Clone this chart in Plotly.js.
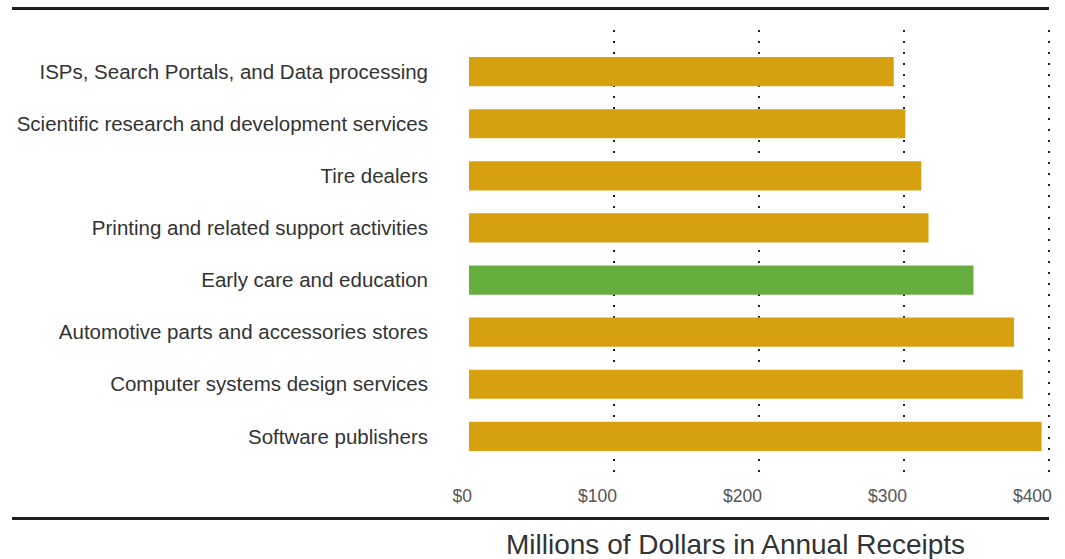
<!DOCTYPE html>
<html>
<head>
<meta charset="utf-8">
<script src="https://cdn.plot.ly/plotly-3.0.1.min.js"></script>
<style>html,body{margin:0;padding:0;background:#fff;}#chart{width:1065px;height:559px;}</style>
</head>
<body>
<div id="chart"></div>
<script>
const categories = [
  "ISPs, Search Portals, and Data processing",
  "Scientific research and development services",
  "Tire dealers",
  "Printing and related support activities",
  "Early care and education",
  "Automotive parts and accessories stores",
  "Computer systems design services",
  "Software publishers"
];
const receipts = [293, 301, 312, 317, 348, 376, 382, 395];
const highlight = "Early care and education";
const tickValues = [0, 100, 200, 300, 400];
const tickLabels = ["$0", "$100", "$200", "$300", "$400"];
const xTitle = "Millions of Dollars in Annual Receipts";

const gold = "#D6A010", green = "#66AF3F";
const colors = categories.map(c => c === highlight ? green : gold);

const trace = {
  type: "bar",
  orientation: "h",
  y: categories,
  x: receipts,
  marker: {color: colors, line: {width: 0}},
  hoverinfo: "x+y"
};

const L = 469, T = 30, W = 581, H = 448;
const px = v => (v - L) / W;
const py = v => (T + H - v) / H;

const layout = {
  width: 1065, height: 559,
  margin: {l: L, r: 1065 - L - W, t: T, b: 559 - T - H, pad: 0},
  paper_bgcolor: "#fff", plot_bgcolor: "#fff",
  showlegend: false,
  bargap: 0.44,
  font: {family: "Liberation Sans, Arial, sans-serif", color: "#333"},
  xaxis: {
    range: [0, 400.8],
    tickvals: tickValues, ticktext: tickLabels,
    showgrid: true, gridcolor: "#222", gridwidth: 2, griddash: "2px,9px",
    zeroline: false, showline: false, ticks: "",
    ticklabelposition: "outside left",
    ticklabelshift: 3,
    ticklabelstandoff: 5,
    tickfont: {size: 17.5, color: "#555"},
    fixedrange: true
  },
  yaxis: {
    type: "category",
    range: [7.8, -0.8],
    showgrid: false, zeroline: false, showline: false, ticks: "",
    ticklabelstandoff: 40,
    tickfont: {size: 20.5, color: "#333"},
    fixedrange: true
  },
  shapes: [
    {type: "line", xref: "paper", yref: "paper", x0: px(12), x1: px(1049), y0: py(8.5), y1: py(8.5), line: {color: "#1e1e1e", width: 3}},
    {type: "line", xref: "paper", yref: "paper", x0: px(12), x1: px(1049), y0: py(518.5), y1: py(518.5), line: {color: "#1e1e1e", width: 3}}
  ],
  annotations: [
    {text: xTitle, xref: "paper", yref: "paper", x: px(735), y: py(544), xanchor: "center", yanchor: "middle", showarrow: false, font: {size: 28, color: "#333"}}
  ]
};

Plotly.newPlot("chart", [trace], layout, {displayModeBar: false, staticPlot: true});
</script>
</body>
</html>
